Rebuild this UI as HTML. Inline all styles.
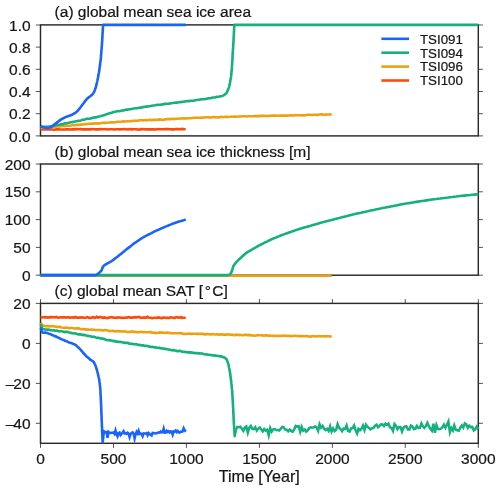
<!DOCTYPE html>
<html><head><meta charset="utf-8"><title>Sea ice time series</title>
<style>html,body{margin:0;padding:0;background:#fff}text{stroke:#161616;stroke-width:.22px}svg{filter:blur(.32px)}</style></head>
<body>
<svg width="500" height="491" viewBox="0 0 500 491" style="display:block;font-family:'Liberation Sans',Arial,Helvetica,sans-serif;font-size:15.5px" fill="#161616">
<rect width="500" height="491" fill="#fff"/>
<rect x="40.5" y="24.9" width="437.8" height="111.0" fill="none" stroke="#2a2a2a" stroke-width="1.45"/>
<path d="M40.5 135.9H35.8M478.3 135.9H482.9" stroke="#2a2a2a" stroke-width="0.8"/>
<text x="30.6" y="141.5" text-anchor="end">0.0</text>
<path d="M40.5 113.7H35.8M478.3 113.7H482.9" stroke="#2a2a2a" stroke-width="0.8"/>
<text x="30.6" y="119.3" text-anchor="end">0.2</text>
<path d="M40.5 91.5H35.8M478.3 91.5H482.9" stroke="#2a2a2a" stroke-width="0.8"/>
<text x="30.6" y="97.1" text-anchor="end">0.4</text>
<path d="M40.5 69.3H35.8M478.3 69.3H482.9" stroke="#2a2a2a" stroke-width="0.8"/>
<text x="30.6" y="74.9" text-anchor="end">0.6</text>
<path d="M40.5 47.1H35.8M478.3 47.1H482.9" stroke="#2a2a2a" stroke-width="0.8"/>
<text x="30.6" y="52.7" text-anchor="end">0.8</text>
<path d="M40.5 25.0H35.8M478.3 25.0H482.9" stroke="#2a2a2a" stroke-width="0.8"/>
<text x="30.6" y="30.5" text-anchor="end">1.0</text>
<text x="54.6" y="17.4">(a) global mean sea ice area</text>
<polyline points="40.5,129.5 42.5,129.5 44.5,129.4 46.5,129.3 48.5,129.4 50.4,129.3 52.4,129.5 54.4,129.7 56.4,129.4 58.4,129.4 60.4,129.5 62.4,129.5 64.4,129.5 66.4,129.3 68.4,129.4 70.3,129.5 72.3,129.2 74.3,129.4 76.3,129.1 78.3,129.2 80.3,129.1 82.3,129.4 84.3,129.2 86.3,129.4 88.2,129.4 90.2,129.4 92.2,129.0 94.2,129.3 96.2,129.4 98.2,129.4 100.2,129.1 102.2,129.3 104.2,129.2 106.2,129.2 108.1,129.5 110.1,129.2 112.1,129.3 114.1,129.5 116.1,129.3 118.1,129.3 120.1,129.4 122.1,129.3 124.1,129.1 126.0,129.3 128.0,129.5 130.0,129.1 132.0,129.4 134.0,129.3 136.0,129.2 138.0,129.6 140.0,129.4 142.0,129.1 144.0,129.3 145.9,129.4 147.9,129.2 149.9,129.4 151.9,129.3 153.9,129.4 155.9,129.5 157.9,129.1 159.9,129.3 161.9,129.2 163.8,129.3 165.8,129.1 167.8,129.1 169.8,129.2 171.8,129.4 173.8,129.4 175.8,129.0 177.8,129.1 179.8,129.3 181.8,128.9 183.7,129.1 185.7,129.2" fill="none" stroke="#ff4a0a" stroke-width="2.60" stroke-linejoin="round" stroke-miterlimit="5" stroke-linecap="butt"/>
<polyline points="40.7,127.7 42.7,127.5 44.7,127.2 46.8,127.1 48.8,127.0 50.8,127.1 52.8,126.7 54.8,126.6 56.9,126.5 58.9,126.4 60.9,126.2 62.9,125.9 64.9,125.9 66.9,125.7 69.0,125.7 71.0,125.5 73.0,125.2 75.0,125.2 77.0,124.8 79.0,124.9 81.1,124.6 83.1,124.5 85.1,124.0 87.1,124.1 89.1,123.7 91.1,123.5 93.2,123.6 95.2,123.4 97.2,123.4 99.2,123.6 101.2,123.0 103.2,122.9 105.3,122.9 107.3,122.8 109.3,122.5 111.3,122.4 113.3,122.4 115.4,122.2 117.4,121.8 119.4,121.8 121.4,121.7 123.4,121.4 125.5,121.5 127.5,121.2 129.5,121.3 131.5,121.1 133.5,120.9 135.5,120.7 137.6,120.7 139.6,120.3 141.6,120.3 143.6,120.4 145.6,120.0 147.7,120.3 149.7,119.8 151.7,120.1 153.7,119.8 155.7,119.9 157.8,119.7 159.8,119.4 161.8,119.7 163.8,119.6 165.9,119.3 167.9,119.1 169.9,119.1 171.9,118.8 173.9,119.0 176.0,118.7 178.0,118.7 180.0,118.5 182.0,118.4 184.0,118.2 186.1,118.5 188.1,118.2 190.1,118.2 192.1,118.0 194.1,117.8 196.2,117.7 198.2,117.7 200.2,117.7 202.2,117.6 204.3,117.5 206.3,117.3 208.3,117.3 210.3,117.6 212.3,117.2 214.4,117.1 216.4,117.3 218.4,117.4 220.4,116.9 222.5,117.0 224.5,116.9 226.5,116.7 228.5,117.0 230.5,116.8 232.6,116.8 234.6,116.6 236.6,116.7 238.6,116.5 240.7,116.5 242.7,116.3 244.7,116.2 246.7,116.6 248.7,116.2 250.8,116.3 252.8,116.2 254.8,116.1 256.8,116.0 258.9,116.1 260.9,115.9 262.9,115.9 264.9,115.9 266.9,116.0 269.0,115.9 271.0,115.8 273.0,115.6 275.0,115.5 277.1,115.8 279.1,115.7 281.1,115.5 283.1,115.6 285.1,115.6 287.2,115.6 289.2,115.5 291.2,115.3 293.2,115.5 295.3,115.1 297.3,115.3 299.3,115.3 301.3,115.3 303.3,115.4 305.4,115.3 307.4,114.8 309.4,114.7 311.4,115.0 313.5,114.7 315.5,114.8 317.5,114.9 319.5,114.5 321.6,114.4 323.6,114.7 325.6,114.6 327.6,114.5 329.6,114.5 331.7,114.4" fill="none" stroke="#eda010" stroke-width="2.60" stroke-linejoin="round" stroke-miterlimit="5" stroke-linecap="butt"/>
<polyline points="40.7,126.2 42.2,126.6 43.7,126.7 45.2,126.8 46.7,126.9 48.2,126.7 49.7,126.7 51.2,126.2 52.7,126.0 54.2,125.6 55.7,125.3 57.1,125.1 58.6,124.7 60.1,124.5 61.6,124.2 63.1,124.1 64.5,123.4 66.0,123.4 67.5,123.0 69.0,122.7 70.5,122.2 72.0,122.1 73.5,121.9 74.9,121.5 76.4,121.2 77.9,120.9 79.4,120.8 80.9,120.4 82.4,119.8 83.9,119.7 85.3,119.3 86.8,118.8 88.3,118.8 89.8,118.7 91.3,118.2 92.7,117.8 94.2,117.4 95.7,117.4 97.2,116.9 98.6,116.5 100.1,116.2 101.6,115.8 103.0,115.5 104.5,115.0 105.9,114.5 107.3,113.9 108.8,113.6 110.2,113.0 111.7,112.8 113.1,112.0 114.6,111.8 116.1,111.5 117.6,111.1 119.0,111.2 120.5,111.0 122.0,110.5 123.5,110.4 125.0,110.1 126.5,109.5 128.0,109.6 129.5,109.3 131.0,109.1 132.5,108.7 134.0,108.5 135.5,108.3 137.0,108.2 138.5,107.9 140.0,107.6 141.5,107.6 143.0,107.1 144.4,106.9 145.9,106.5 147.4,106.6 148.9,106.3 150.4,106.1 151.9,105.8 153.4,105.5 154.9,105.3 156.4,105.0 157.9,104.8 159.4,104.7 160.9,104.6 162.4,104.4 163.9,104.1 165.4,103.9 166.9,103.7 168.4,103.8 169.9,103.4 171.4,103.2 172.9,103.0 174.4,102.7 175.9,102.6 177.4,102.6 178.9,102.2 180.4,102.1 181.9,101.9 183.4,101.8 184.9,101.4 186.4,101.3 187.9,101.1 189.4,101.1 191.0,100.7 192.5,100.7 194.0,100.6 195.5,100.2 197.0,99.9 198.5,99.8 200.0,99.6 201.5,99.3 203.0,99.3 204.5,99.3 206.0,98.8 207.5,98.6 209.0,98.3 210.5,98.2 211.9,97.8 213.4,97.5 214.9,97.5 216.4,96.9 217.9,96.9 219.4,96.6 220.8,96.2 222.3,95.9 223.7,95.4 224.9,94.3 226.2,93.5 227.0,92.2 227.5,90.9 228.1,89.7 228.7,88.2 229.2,86.6 229.5,85.1 229.8,83.7 230.1,82.3 230.3,80.7 230.6,79.3 230.9,77.8 231.1,76.2 231.2,74.8 231.4,73.3 231.5,71.7 231.7,70.3 231.8,69.0 231.9,67.3 232.0,65.7 232.1,64.0 232.2,62.8 232.3,61.0 232.4,59.5 232.5,58.3 232.5,56.7 232.6,55.1 232.7,53.4 232.8,52.1 232.9,50.5 233.0,49.2 233.1,47.9 233.2,46.1 233.3,44.5 233.4,42.9 233.5,41.6 233.6,40.0 233.6,38.4 233.7,37.0 233.8,35.4 233.9,34.1 233.9,32.6 234.0,31.1 234.1,29.4 234.2,28.0 234.3,26.4 234.5,24.9 478.3,24.9" fill="none" stroke="#14b07e" stroke-width="2.60" stroke-linejoin="round" stroke-miterlimit="5" stroke-linecap="butt"/>
<polyline points="40.7,126.4 41.6,126.7 42.6,127.0 43.6,127.4 44.5,127.6 45.5,127.7 46.5,127.9 47.5,127.9 48.5,127.7 49.5,127.4 50.4,127.1 51.3,126.6 52.2,126.2 53.1,125.6 53.8,124.9 54.6,124.3 55.4,123.7 56.2,123.1 57.0,122.4 57.8,121.9 58.6,121.2 59.4,120.7 60.2,120.0 61.1,119.5 61.9,118.9 62.8,118.6 63.7,118.0 64.6,117.6 65.5,117.1 66.5,116.8 67.4,116.4 68.4,116.1 69.3,115.8 70.3,115.4 71.2,115.1 72.1,114.7 73.0,114.1 73.9,113.7 74.8,113.1 75.6,112.6 76.4,112.0 77.2,111.3 77.8,110.6 78.5,109.8 79.1,109.0 79.7,108.3 80.4,107.5 81.0,106.6 81.6,105.9 82.2,105.0 82.8,104.2 83.4,103.5 84.0,102.6 84.6,101.9 85.2,101.0 85.8,100.2 86.4,99.4 87.2,98.7 87.9,98.1 88.7,97.4 89.5,96.8 90.3,96.2 91.1,95.5 91.8,94.9 92.6,94.2 93.2,93.5 93.7,92.5 94.2,91.7 94.6,90.7 94.9,89.8 95.3,88.8 95.6,87.8 95.9,86.9 96.1,86.0 96.4,84.9 96.6,83.9 96.8,83.0 97.1,82.0 97.3,81.1 97.5,80.0 97.7,79.0 97.9,78.1 98.1,77.0 98.3,76.1 98.4,75.1 98.6,74.0 98.8,73.0 99.0,72.2 99.2,71.1 99.3,70.1 99.4,69.1 99.6,68.1 99.7,67.1 99.8,66.2 100.0,65.1 100.1,64.1 100.2,63.1 100.4,62.1 100.5,61.2 100.6,60.2 100.8,59.1 100.9,58.1 101.0,57.1 101.0,56.2 101.1,55.0 101.2,54.1 101.3,53.0 101.3,52.1 101.4,51.0 101.5,50.1 101.6,49.0 101.7,48.0 101.7,47.1 101.8,46.1 101.9,45.0 102.0,44.0 102.0,43.0 102.1,42.0 102.2,41.0 102.2,40.0 102.3,39.0 102.3,38.0 102.4,37.0 102.4,36.0 102.5,35.1 102.5,34.1 102.6,33.0 102.7,31.9 102.7,31.0 102.8,29.9 102.8,28.9 102.9,27.9 102.9,26.9 103.0,26.0 103.2,24.9 185.7,24.9" fill="none" stroke="#1a63ff" stroke-width="2.60" stroke-linejoin="round" stroke-miterlimit="5" stroke-linecap="butt"/>
<path d="M381.4 38.8H409" stroke="#1a63ff" stroke-width="2.6"/>
<text x="420" y="43.6" font-size="13.3">TSI091</text>
<path d="M381.4 52.7H409" stroke="#14b07e" stroke-width="2.6"/>
<text x="420" y="57.5" font-size="13.3">TSI094</text>
<path d="M381.4 66.6H409" stroke="#eda010" stroke-width="2.6"/>
<text x="420" y="71.4" font-size="13.3">TSI096</text>
<path d="M381.4 80.5H409" stroke="#ff4a0a" stroke-width="2.6"/>
<text x="420" y="85.3" font-size="13.3">TSI100</text>
<rect x="40.5" y="164.0" width="437.8" height="111.2" fill="none" stroke="#2a2a2a" stroke-width="1.45"/>
<path d="M40.5 275.2H35.8M478.3 275.2H482.9" stroke="#2a2a2a" stroke-width="0.8"/>
<text x="30.6" y="280.8" text-anchor="end">0</text>
<path d="M40.5 247.4H35.8M478.3 247.4H482.9" stroke="#2a2a2a" stroke-width="0.8"/>
<text x="30.6" y="252.9" text-anchor="end">50</text>
<path d="M40.5 219.6H35.8M478.3 219.6H482.9" stroke="#2a2a2a" stroke-width="0.8"/>
<text x="30.6" y="225.2" text-anchor="end">100</text>
<path d="M40.5 191.8H35.8M478.3 191.8H482.9" stroke="#2a2a2a" stroke-width="0.8"/>
<text x="30.6" y="197.3" text-anchor="end">150</text>
<path d="M40.5 164.0H35.8M478.3 164.0H482.9" stroke="#2a2a2a" stroke-width="0.8"/>
<text x="30.6" y="169.6" text-anchor="end">200</text>
<text x="54.6" y="156.9">(b) global mean sea ice thickness [m]</text>
<polyline points="40.5,275.8 185.7,275.8" fill="none" stroke="#ff4a0a" stroke-width="2.60" stroke-linejoin="round" stroke-miterlimit="5" stroke-linecap="butt"/>
<polyline points="40.5,275.7 331.7,275.7" fill="none" stroke="#eda010" stroke-width="2.60" stroke-linejoin="round" stroke-miterlimit="5" stroke-linecap="butt"/>
<polyline points="40.5,275.1 228.5,275.1 230.3,274.2 231.3,272.5 232.1,270.6 232.6,268.7 233.1,266.7 234.1,265.0 235.3,263.4 236.6,261.8 238.0,260.4 239.5,259.0 240.9,257.7 242.4,256.3 243.9,255.0 245.5,253.6 247.0,252.4 248.8,251.4 250.5,250.4 252.3,249.4 254.0,248.4 255.8,247.4 257.5,246.3 259.3,245.4 261.1,244.5 262.9,243.6 264.7,242.7 266.5,241.8 268.3,240.9 270.1,240.0 272.0,239.1 273.8,238.3 275.7,237.6 277.5,236.8 279.4,236.1 281.3,235.3 283.2,234.6 285.1,233.9 287.0,233.2 288.9,232.5 290.8,231.9 292.7,231.2 294.6,230.6 296.5,229.9 298.4,229.3 300.3,228.7 302.3,228.1 304.2,227.5 306.2,227.0 308.1,226.4 310.0,225.9 312.0,225.3 313.9,224.8 315.9,224.2 317.8,223.7 319.7,223.1 321.7,222.5 323.6,222.0 325.5,221.4 327.5,220.9 329.5,220.4 331.4,219.9 333.4,219.4 335.3,218.9 337.3,218.4 339.2,218.0 341.2,217.5 343.1,217.0 345.1,216.5 347.1,216.0 349.0,215.5 351.0,215.0 352.9,214.5 354.9,214.1 356.9,213.6 358.8,213.2 360.8,212.8 362.8,212.3 364.8,211.9 366.7,211.5 368.7,211.1 370.7,210.6 372.6,210.2 374.6,209.8 376.6,209.3 378.6,208.9 380.5,208.5 382.5,208.1 384.5,207.7 386.5,207.3 388.5,206.9 390.4,206.6 392.4,206.2 394.4,205.8 396.4,205.4 398.4,205.0 400.3,204.6 402.3,204.2 404.3,203.8 406.3,203.5 408.3,203.2 410.3,202.9 412.3,202.6 414.3,202.2 416.2,201.9 418.2,201.6 420.2,201.3 422.2,201.0 424.2,200.7 426.2,200.4 428.2,200.1 430.2,199.8 432.2,199.5 434.2,199.2 436.2,199.0 438.2,198.7 440.2,198.5 442.2,198.2 444.2,198.0 446.2,197.7 448.2,197.5 450.2,197.2 452.2,197.0 454.2,196.7 456.2,196.5 458.2,196.2 460.2,196.0 462.2,195.8 464.2,195.6 466.3,195.4 468.3,195.2 470.3,195.0 472.3,194.8 474.3,194.6 476.3,194.4 478.3,194.2" fill="none" stroke="#14b07e" stroke-width="2.60" stroke-linejoin="round" stroke-miterlimit="5" stroke-linecap="butt"/>
<polyline points="40.5,275.1 95.6,275.1 97.0,274.5 98.3,273.6 99.4,272.6 100.5,271.5 101.6,270.4 102.1,269.0 102.6,267.5 103.4,266.2 104.5,265.1 105.8,264.3 107.1,263.5 108.5,262.8 109.8,262.1 111.2,261.4 112.4,260.5 113.7,259.6 114.9,258.6 116.1,257.7 117.4,256.8 118.6,255.8 119.8,254.8 120.9,253.9 122.1,252.9 123.3,251.9 124.5,250.9 125.7,250.0 126.9,249.0 128.1,248.1 129.4,247.1 130.6,246.2 131.8,245.2 133.0,244.3 134.2,243.3 135.5,242.5 136.8,241.6 138.1,240.7 139.3,239.9 140.6,239.0 141.9,238.2 143.2,237.3 144.5,236.6 145.9,235.9 147.3,235.2 148.6,234.5 150.0,233.8 151.4,233.1 152.8,232.3 154.1,231.6 155.5,231.0 156.9,230.4 158.4,229.8 159.8,229.1 161.2,228.5 162.6,227.9 164.0,227.3 165.4,226.6 166.8,226.1 168.3,225.5 169.7,224.9 171.1,224.4 172.5,223.8 174.0,223.2 175.4,222.7 176.9,222.2 178.4,221.8 179.8,221.3 181.3,220.9 182.8,220.4 184.3,220.0 185.7,219.5" fill="none" stroke="#1a63ff" stroke-width="2.60" stroke-linejoin="round" stroke-miterlimit="5" stroke-linecap="butt"/>
<rect x="40.5" y="303.4" width="437.8" height="139.9" fill="none" stroke="#2a2a2a" stroke-width="1.45"/>
<path d="M40.5 423.3H35.8M478.3 423.3H482.9" stroke="#2a2a2a" stroke-width="0.8"/>
<text x="30.6" y="428.9" text-anchor="end">–<tspan dx="-0.9">40</tspan></text>
<path d="M40.5 383.4H35.8M478.3 383.4H482.9" stroke="#2a2a2a" stroke-width="0.8"/>
<text x="30.6" y="388.9" text-anchor="end">–<tspan dx="-0.9">20</tspan></text>
<path d="M40.5 343.4H35.8M478.3 343.4H482.9" stroke="#2a2a2a" stroke-width="0.8"/>
<text x="30.6" y="349.0" text-anchor="end">0</text>
<path d="M40.5 303.4H35.8M478.3 303.4H482.9" stroke="#2a2a2a" stroke-width="0.8"/>
<text x="30.6" y="309.0" text-anchor="end">20</text>
<text x="54.6" y="296.0">(c) global mean SAT [<tspan dx="1.6">°</tspan><tspan dx="1.5">C]</tspan></text>
<path d="M40.5 443.3V447.9M40.5 303.4V299.1" stroke="#2a2a2a" stroke-width="0.8"/>
<text x="40.5" y="463.7" text-anchor="middle">0</text>
<path d="M113.5 443.3V447.9M113.5 303.4V299.1" stroke="#2a2a2a" stroke-width="0.8"/>
<text x="113.5" y="463.7" text-anchor="middle">500</text>
<path d="M186.4 443.3V447.9M186.4 303.4V299.1" stroke="#2a2a2a" stroke-width="0.8"/>
<text x="186.4" y="463.7" text-anchor="middle">1000</text>
<path d="M259.4 443.3V447.9M259.4 303.4V299.1" stroke="#2a2a2a" stroke-width="0.8"/>
<text x="259.4" y="463.7" text-anchor="middle">1500</text>
<path d="M332.4 443.3V447.9M332.4 303.4V299.1" stroke="#2a2a2a" stroke-width="0.8"/>
<text x="332.4" y="463.7" text-anchor="middle">2000</text>
<path d="M405.3 443.3V447.9M405.3 303.4V299.1" stroke="#2a2a2a" stroke-width="0.8"/>
<text x="405.3" y="463.7" text-anchor="middle">2500</text>
<path d="M478.3 443.3V447.9M478.3 303.4V299.1" stroke="#2a2a2a" stroke-width="0.8"/>
<text x="478.3" y="463.7" text-anchor="middle">3000</text>
<text x="259.3" y="482.0" text-anchor="middle" font-size="16.1">Time [Year]</text>
<polyline points="40.5,317.6 41.7,317.4 42.9,317.2 44.1,317.2 45.3,317.4 46.5,317.3 47.7,317.6 48.9,317.5 50.1,317.0 51.3,317.5 52.5,317.0 53.7,317.3 54.9,317.4 56.1,316.8 57.3,317.5 58.5,317.6 59.7,317.5 60.9,317.4 62.1,317.4 63.3,317.2 64.5,317.4 65.7,317.3 66.9,317.6 68.1,317.1 69.3,317.6 70.5,317.6 71.7,317.5 72.9,317.4 74.1,317.7 75.3,316.9 76.5,317.7 77.7,317.6 78.9,317.6 80.1,317.7 81.3,317.3 82.5,317.4 83.7,317.8 84.9,317.7 86.1,317.6 87.3,317.0 88.5,317.7 89.7,317.9 90.9,317.9 92.1,317.6 93.3,317.0 94.5,317.9 95.7,317.5 96.9,316.7 98.1,317.7 99.3,317.0 100.5,317.1 101.7,317.3 102.9,318.0 104.1,317.4 105.3,317.6 106.5,318.2 107.7,318.1 108.9,317.5 110.1,317.5 111.3,317.1 112.5,317.3 113.7,317.7 114.9,317.7 116.1,317.6 117.3,317.9 118.5,317.3 119.7,317.5 120.9,317.8 122.1,317.8 123.3,317.9 124.5,317.7 125.7,317.5 126.9,317.7 128.1,317.2 129.3,317.0 130.5,317.8 131.7,317.5 132.9,317.7 134.1,317.0 135.3,317.4 136.5,317.4 137.7,317.3 138.9,316.8 140.1,317.5 141.3,317.9 142.5,317.7 143.7,317.4 144.9,317.6 146.1,317.8 147.3,316.6 148.5,317.5 149.7,317.8 150.9,317.8 152.1,318.2 153.3,318.0 154.5,317.7 155.7,317.7 156.9,317.9 158.1,317.4 159.3,317.6 160.5,317.9 161.7,318.3 162.9,317.5 164.1,317.6 165.3,317.7 166.5,318.1 167.7,317.6 168.9,318.1 170.1,317.3 171.3,317.5 172.5,317.5 173.7,317.9 174.9,318.0 176.1,317.1 177.3,317.3 178.5,317.7 179.7,317.4 180.9,317.1 182.1,318.0 183.3,317.8 184.5,317.8 185.7,317.4" fill="none" stroke="#ff4a0a" stroke-width="2.60" stroke-linejoin="round" stroke-miterlimit="5" stroke-linecap="butt"/>
<polyline points="40.7,322.7 41.4,323.8 42.3,325.3 43.4,325.8 44.9,325.9 46.4,326.3 47.9,326.1 49.4,326.4 50.9,326.3 52.4,326.1 53.9,326.5 55.4,326.5 56.9,326.9 58.4,326.7 59.9,326.9 61.4,327.4 62.9,327.8 64.4,327.9 66.0,327.6 67.5,327.8 69.0,328.2 70.5,328.0 72.0,327.9 73.5,328.3 75.0,328.5 76.5,328.4 78.0,328.4 79.5,328.6 81.0,329.2 82.5,329.0 84.0,329.3 85.5,329.4 87.0,329.6 88.5,329.5 90.0,329.7 91.5,329.5 93.1,329.7 94.6,329.7 96.1,330.2 97.6,330.0 99.1,330.0 100.6,330.1 102.1,330.2 103.6,330.5 105.1,330.1 106.6,330.3 108.1,330.5 109.6,331.3 111.2,331.0 112.7,330.8 114.2,331.1 115.7,331.5 117.2,331.0 118.7,331.1 120.2,331.5 121.7,331.4 123.2,331.5 124.7,331.3 126.2,331.9 127.8,332.0 129.3,331.8 130.8,331.9 132.3,331.3 133.8,332.0 135.3,331.9 136.8,332.1 138.3,332.2 139.8,332.0 141.3,331.8 142.9,332.3 144.4,332.1 145.9,332.2 147.4,332.2 148.9,332.3 150.4,331.9 151.9,332.8 153.4,332.6 154.9,332.9 156.4,333.1 158.0,332.7 159.5,332.4 161.0,332.6 162.5,332.6 164.0,332.8 165.5,333.0 167.0,332.6 168.5,333.1 170.0,332.8 171.5,333.2 173.1,333.2 174.6,333.2 176.1,333.3 177.6,333.2 179.1,333.2 180.6,333.0 182.1,333.4 183.6,333.9 185.1,334.0 186.7,333.9 188.2,333.8 189.7,333.5 191.2,334.0 192.7,333.7 194.2,333.8 195.7,333.8 197.2,333.9 198.7,333.8 200.2,333.9 201.8,333.7 203.3,333.9 204.8,334.6 206.3,334.1 207.8,334.1 209.3,334.3 210.8,334.4 212.3,334.0 213.8,334.3 215.3,334.5 216.9,334.4 218.4,334.4 219.9,334.8 221.4,334.3 222.9,334.6 224.4,334.5 225.9,334.9 227.4,334.2 228.9,334.5 230.5,334.6 232.0,334.9 233.5,334.9 235.0,335.2 236.5,334.5 238.0,335.1 239.5,334.9 241.0,334.9 242.5,335.2 244.0,334.9 245.6,334.7 247.1,335.1 248.6,334.9 250.1,335.1 251.6,335.4 253.1,335.4 254.6,335.7 256.1,335.4 257.6,335.1 259.2,335.3 260.7,335.3 262.2,335.3 263.7,335.7 265.2,335.4 266.7,335.2 268.2,335.8 269.7,335.6 271.2,335.8 272.7,335.7 274.3,335.9 275.8,335.8 277.3,336.0 278.8,335.9 280.3,335.9 281.8,335.9 283.3,335.5 284.8,335.8 286.3,335.8 287.9,336.0 289.4,335.7 290.9,336.3 292.4,336.0 293.9,335.8 295.4,335.7 296.9,336.0 298.4,336.1 299.9,336.0 301.5,336.2 303.0,336.0 304.5,336.3 306.0,336.0 307.5,336.2 309.0,336.5 310.5,336.8 312.0,336.1 313.5,336.2 315.0,336.2 316.6,336.5 318.1,336.1 319.6,336.3 321.1,336.4 322.6,336.2 324.1,336.3 325.6,336.4 327.1,336.1 328.6,336.2 330.2,336.5 331.7,336.6" fill="none" stroke="#eda010" stroke-width="2.60" stroke-linejoin="round" stroke-miterlimit="5" stroke-linecap="butt"/>
<polyline points="40.7,324.0 41.0,324.8 41.3,326.2 41.8,327.6 42.5,328.5 43.2,329.3 44.4,329.3 45.7,329.7 46.9,329.6 48.1,329.6 49.3,329.8 50.5,330.3 51.7,330.2 52.9,330.5 54.1,330.3 55.3,330.7 56.5,330.6 57.7,330.8 58.9,331.4 60.1,331.3 61.3,331.2 62.5,331.4 63.7,331.7 64.9,332.1 66.1,331.9 67.3,331.8 68.5,332.3 69.7,332.6 70.9,332.8 72.0,333.2 73.2,333.2 74.4,333.5 75.6,333.4 76.8,333.9 78.0,334.4 79.2,334.3 80.4,334.4 81.6,334.6 82.8,335.2 84.0,334.8 85.2,335.2 86.3,335.6 87.5,335.9 88.7,335.9 89.9,336.3 91.1,336.4 92.3,336.7 93.5,336.9 94.6,336.9 95.8,337.4 97.0,337.8 98.2,337.7 99.4,338.1 100.6,338.5 101.8,338.4 102.9,338.9 104.1,338.9 105.3,339.5 106.5,340.0 107.7,340.2 108.9,340.0 110.1,340.4 111.3,340.5 112.4,340.7 113.6,341.2 114.8,340.9 116.0,341.6 117.2,341.5 118.4,342.0 119.6,341.9 120.8,342.0 122.0,342.3 123.2,342.6 124.4,342.6 125.6,342.9 126.8,342.9 128.0,342.8 129.2,343.6 130.4,343.7 131.6,343.8 132.8,343.9 134.0,344.3 135.1,344.2 136.3,344.3 137.5,344.6 138.7,345.1 139.9,344.8 141.1,345.5 142.3,345.3 143.5,345.4 144.7,346.0 145.9,345.9 147.1,345.9 148.3,346.2 149.5,346.7 150.7,346.9 151.9,346.8 153.1,347.1 154.3,347.4 155.5,347.3 156.7,347.7 157.9,347.8 159.1,347.9 160.3,348.1 161.5,348.4 162.7,348.5 163.8,348.6 165.0,348.8 166.2,349.3 167.4,349.3 168.6,349.6 169.8,349.9 171.0,349.9 172.2,350.4 173.4,350.0 174.6,350.5 175.8,350.5 177.0,351.1 178.2,351.2 179.4,350.7 180.6,351.1 181.8,351.6 183.0,351.8 184.2,351.9 185.4,351.9 186.6,352.2 187.8,352.4 189.0,352.3 190.2,352.7 191.4,352.2 192.6,352.9 193.8,352.7 195.0,353.2 196.2,353.1 197.4,353.1 198.6,353.5 199.8,353.4 201.0,353.5 202.2,353.5 203.4,354.0 204.6,354.2 205.8,354.5 207.0,354.4 208.2,354.8 209.4,354.8 210.6,354.9 211.8,355.2 213.0,355.5 214.2,355.4 215.4,355.6 216.6,355.8 217.8,356.0 219.0,356.0 220.2,356.5 221.4,356.4 222.5,357.0 223.7,357.1 224.8,357.8 225.7,358.6 226.6,359.3 227.2,360.8 227.5,361.6 227.9,363.0 228.2,364.0 228.6,364.9 228.8,366.1 229.0,367.5 229.3,368.6 229.5,369.8 229.7,370.9 229.9,371.8 230.1,373.3 230.3,374.1 230.4,375.8 230.6,376.8 230.7,378.0 230.9,379.3 231.0,380.6 231.2,381.4 231.3,382.6 231.4,383.9 231.6,384.9 231.7,386.3 231.8,388.1 231.9,388.7 232.1,390.3 232.2,391.1 232.3,392.6 232.3,393.7 232.4,395.0 232.5,396.3 232.5,397.7 232.6,398.6 232.7,399.8 232.8,400.8 232.8,402.3 232.9,403.4 233.0,404.8 233.0,405.8 233.1,407.4 233.2,407.9 233.2,409.4 233.3,410.9 233.3,411.8 233.4,412.9 233.4,414.3 233.5,415.2 233.6,416.7 233.6,418.4 233.7,419.4 233.7,420.1 233.8,421.4 233.8,422.7 233.9,424.2 234.0,425.0 234.1,426.3 234.2,427.8 234.2,429.0 234.3,429.9 234.4,431.0 234.5,432.1 234.5,433.5 234.6,434.4 234.7,436.1 234.9,434.6 235.1,433.7 235.4,432.8 235.6,431.4 235.8,429.8" fill="none" stroke="#14b07e" stroke-width="2.60" stroke-linejoin="round" stroke-miterlimit="5" stroke-linecap="butt"/>
<polyline points="235.6,431.4 235.8,429.8 237.3,426.9 238.8,427.3 240.3,426.8 241.8,428.4 243.3,430.8 244.8,427.6 246.3,426.4 247.8,432.7 249.3,427.6 250.8,425.9 252.3,428.9 253.8,429.1 255.3,427.2 256.8,430.5 258.3,428.6 259.8,427.5 261.3,429.6 262.7,431.4 264.2,429.0 265.7,430.7 267.2,429.8 268.7,435.5 270.2,428.1 271.7,431.6 273.2,429.3 274.7,429.0 276.2,430.0 277.7,430.0 279.2,430.6 280.7,428.7 282.2,426.9 283.7,427.3 285.2,429.5 286.7,429.6 288.2,431.3 289.7,429.5 291.2,430.9 292.7,431.8 294.2,429.5 295.7,426.0 297.2,426.7 298.7,426.1 300.2,431.8 301.7,426.8 303.2,430.7 304.7,429.5 306.2,431.6 307.7,430.3 309.2,428.2 310.6,427.3 312.1,427.6 313.6,427.6 315.1,426.3 316.6,427.6 318.1,430.9 319.6,424.3 321.1,427.7 322.6,425.9 324.1,428.6 325.6,430.0 327.1,428.8 328.6,430.9 330.1,426.3 331.6,431.5 333.1,428.5 334.6,431.1 336.1,429.8 337.6,424.1 339.1,427.7 340.6,429.2 342.1,431.2 343.6,428.5 345.1,428.9 346.6,425.4 348.1,430.8 349.6,431.6 351.1,428.4 352.6,428.1 354.1,425.5 355.6,430.2 357.1,433.4 358.5,428.8 360.0,430.2 361.5,428.8 363.0,425.6 364.5,430.0 366.0,424.7 367.5,426.9 369.0,427.9 370.5,429.3 372.0,428.2 373.5,427.8 375.0,425.9 376.5,424.6 378.0,427.3 379.5,425.8 381.0,424.4 382.5,424.5 384.0,426.0 385.5,423.7 387.0,424.9 388.5,423.6 390.0,427.5 391.5,427.9 393.0,430.8 394.5,424.1 396.0,426.0 397.5,429.2 399.0,426.9 400.5,426.9 402.0,431.5 403.5,427.7 405.0,426.5 406.4,426.3 407.9,429.4 409.4,429.4 410.9,425.6 412.4,426.5 413.9,429.1 415.4,428.9 416.9,425.9 418.4,427.9 419.9,427.8 421.4,423.4 422.9,426.3 424.4,427.9 425.9,425.9 427.4,422.8 428.9,426.5 430.4,428.8 431.9,430.7 433.4,423.7 434.9,432.8 436.4,425.0 437.9,428.9 439.4,429.2 440.9,428.6 442.4,427.1 443.9,424.6 445.4,427.7 446.9,424.8 448.4,421.5 449.9,432.2 451.4,428.0 452.9,430.4 454.3,425.4 455.8,429.8 457.3,430.2 458.8,430.7 460.3,427.7 461.8,425.4 463.3,427.6 464.8,423.4 466.3,424.4 467.8,427.9 469.3,425.6 470.8,427.1 472.3,426.9 473.8,430.4 475.3,429.2 476.8,426.5 478.3,429.3" fill="none" stroke="#14b07e" stroke-width="2.50" stroke-linejoin="miter" stroke-miterlimit="5" stroke-linecap="butt"/>
<polyline points="40.7,327.6 41.0,328.4 41.2,329.4 41.5,330.6 41.9,331.4 42.3,332.3 43.2,332.8 44.2,332.8 45.2,332.6 46.2,332.7 47.1,332.8 48.1,333.4 49.0,333.7 50.0,333.9 50.9,334.3 51.8,334.8 52.7,335.2 53.7,335.5 54.6,336.1 55.5,336.2 56.4,336.8 57.4,337.2 58.3,337.6 59.2,338.1 60.1,338.4 61.0,339.0 61.9,339.4 62.9,339.8 63.8,340.1 64.7,340.5 65.6,341.0 66.6,341.2 67.5,341.7 68.5,342.2 69.4,342.5 70.4,342.9 71.3,343.1 72.3,343.4 73.2,343.9 74.2,344.2 75.1,344.7 76.0,345.1 76.7,345.9 77.4,346.6 78.1,347.3 78.9,347.9 79.6,348.6 80.3,349.3 80.9,350.1 81.6,351.0 82.3,351.6 82.9,352.6 83.6,353.1 84.2,354.0 84.9,354.7 85.6,355.4 86.3,356.3 87.1,356.8 87.8,357.3 88.6,358.1 89.4,358.7 90.2,359.6 91.0,360.0 91.8,360.6 92.6,361.0 93.5,361.8 94.0,362.6 94.5,363.6 94.9,364.3 95.4,365.3 95.7,366.2 96.0,367.1 96.3,368.1 96.6,369.1 96.9,369.8 97.2,371.1 97.4,372.1 97.7,373.0 97.9,373.8 98.2,375.1 98.4,376.0 98.6,377.0 98.8,378.1 99.1,378.9 99.3,380.0 99.4,380.9 99.5,381.9 99.7,382.9 99.8,383.9 99.9,385.0 100.0,385.9 100.1,386.9 100.2,387.9 100.3,389.0 100.4,389.9 100.4,390.9 100.5,392.0 100.5,392.9 100.6,394.0 100.6,394.9 100.7,396.2 100.7,397.1 100.8,398.1 100.8,399.0 100.9,400.3 100.9,401.1 101.0,402.1 101.0,403.1 101.1,404.1 101.1,405.2 101.2,406.1 101.2,407.3 101.2,408.0 101.3,409.2 101.3,410.0 101.3,411.3 101.4,412.1 101.4,413.2 101.5,414.3 101.5,415.3 101.5,416.1 101.6,417.2 101.6,418.1 101.6,419.2 101.7,420.2 101.7,421.2 101.8,422.2 101.8,423.2 101.9,424.2 101.9,425.3 101.9,426.5 102.0,427.1 102.0,428.3 102.1,429.3 102.1,430.4 102.1,431.3 102.2,432.4 102.2,433.3 102.3,434.5 102.3,435.4 102.4,436.4 102.4,437.5 102.5,438.4 102.5,439.3 102.6,440.5 102.6,441.5 102.7,442.4 102.8,441.6 102.9,440.6 103.0,439.4 103.1,438.4 103.2,437.7 103.3,436.6 103.4,435.4 103.5,434.4 103.7,433.4 103.8,432.4 104.0,431.3" fill="none" stroke="#1a63ff" stroke-width="2.60" stroke-linejoin="round" stroke-miterlimit="5" stroke-linecap="butt"/>
<polyline points="103.8,432.4 104.0,431.3 105.5,432.2 106.5,432.0 107.5,437.8 108.5,431.9 109.5,432.8 110.5,432.9 111.5,432.8 112.5,432.7 113.5,432.4 114.5,433.8 115.5,430.3 116.5,433.9 117.5,436.3 118.5,433.2 119.5,432.6 120.5,435.1 121.5,433.9 122.5,432.6 123.6,431.2 124.6,433.6 125.6,433.3 126.6,433.9 127.6,432.7 128.6,433.5 129.6,437.2 130.6,434.2 131.6,433.0 132.6,432.4 133.6,433.5 134.6,438.6 135.6,434.3 136.6,431.8 137.6,433.4 138.6,430.8 139.6,434.0 140.6,433.5 141.6,434.1 142.6,436.2 143.6,433.3 144.6,433.4 145.6,433.4 146.6,433.1 147.6,435.2 148.6,433.0 149.6,433.9 150.6,434.8 151.6,435.5 152.6,432.9 153.6,433.1 154.6,433.3 155.6,433.4 156.6,433.0 157.7,433.0 158.7,432.3 159.7,432.6 160.7,431.5 161.7,432.5 162.7,432.3 163.7,428.6 164.7,432.6 165.7,432.5 166.7,430.9 167.7,432.1 168.7,431.3 169.7,432.5 170.7,431.3 171.7,431.5 172.7,434.6 173.7,431.4 174.7,431.6 175.7,430.5 176.7,432.0 177.7,431.0 178.7,432.3 179.7,432.6 180.7,431.6 181.7,431.9 182.7,431.4 183.7,428.3 184.7,430.3 185.7,431.7" fill="none" stroke="#1a63ff" stroke-width="2.50" stroke-linejoin="miter" stroke-miterlimit="5" stroke-linecap="butt"/>
</svg>
</body></html>
